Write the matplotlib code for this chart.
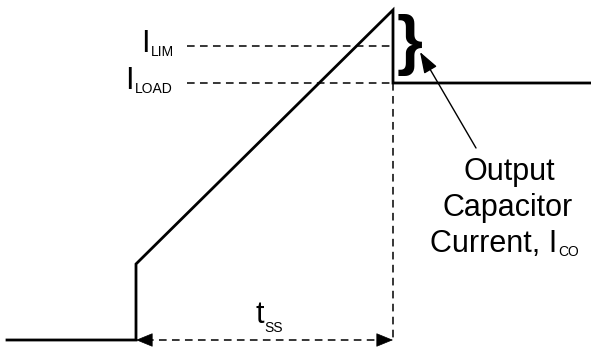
import matplotlib.pyplot as plt

# waveform (x in px-like time units, y in px-like current units, y up)
t_wave = [7, 136, 136, 393, 393, 591]
i_wave = [7, 7, 83, 337, 264, 264]

# reference levels
i_lim = 301
i_load = 264
level_x0 = 187
t_start = 136
t_end = 393

plt.rcParams['font.family'] = ['Liberation Sans', 'DejaVu Sans']

fig = plt.figure(figsize=(5.91, 3.47), dpi=100)
ax = fig.add_axes([0, 0, 1, 1])
ax.set_xlim(0, 591)
ax.set_ylim(0, 347)
ax.axis('off')

ax.plot(t_wave, i_wave, color='black', lw=2.0, solid_joinstyle='miter')

# dashed guide lines
dash = dict(color='black', lw=1.1, dashes=(5, 3.5))
ax.plot([level_x0, t_end], [i_lim, i_lim], **dash)
ax.plot([level_x0, t_end], [i_load, i_load], **dash)
ax.plot([t_end, t_end], [i_load, i_wave[0]], **dash)

# t_ss double arrow
ax.plot([t_start + 10, t_end - 10], [i_wave[0], i_wave[0]], **dash)
ax.annotate('', xy=(t_start, i_wave[0]), xytext=(t_start + 14, i_wave[0]),
            arrowprops=dict(arrowstyle='-|>,head_length=1.1,head_width=0.45',
                            color='black', lw=0.5, shrinkA=0, shrinkB=0))
ax.annotate('', xy=(t_end, i_wave[0]), xytext=(t_end - 14, i_wave[0]),
            arrowprops=dict(arrowstyle='-|>,head_length=1.1,head_width=0.45',
                            color='black', lw=0.5, shrinkA=0, shrinkB=0))

big = 22
small = 10

# level labels
ax.text(150, i_lim - 6, 'I', fontsize=big, ha='right', va='baseline')
ax.text(151, i_lim - 10, 'LIM', fontsize=small, ha='left', va='baseline')
ax.text(134, i_load - 6, 'I', fontsize=big, ha='right', va='baseline')
ax.text(135, i_load - 10, 'LOAD', fontsize=small, ha='left', va='baseline')

# t_ss label
ax.text(264, 347 - 323, 't', fontsize=big, ha='right', va='baseline')
ax.text(264, 347 - 332, 'SS', fontsize=small, ha='left', va='baseline')

# brace and callout
ax.text(410, 302, '}', fontsize=48, fontweight='bold', ha='center', va='center')
ax.annotate('', xy=(420, 347 - 52), xytext=(476, 347 - 148),
            arrowprops=dict(arrowstyle='-|>,head_length=1.3,head_width=0.45',
                            color='black', lw=1.0, shrinkA=0, shrinkB=0))

ax.text(509, 347 - 180, 'Output', fontsize=big, ha='center', va='baseline')
ax.text(508, 347 - 216, 'Capacitor', fontsize=big, ha='center', va='baseline')
ax.text(557, 347 - 252, 'Current, I', fontsize=big, ha='right', va='baseline')
ax.text(558, 347 - 256, 'CO', fontsize=small, ha='left', va='baseline')

fig.savefig('out.png', dpi=100)
